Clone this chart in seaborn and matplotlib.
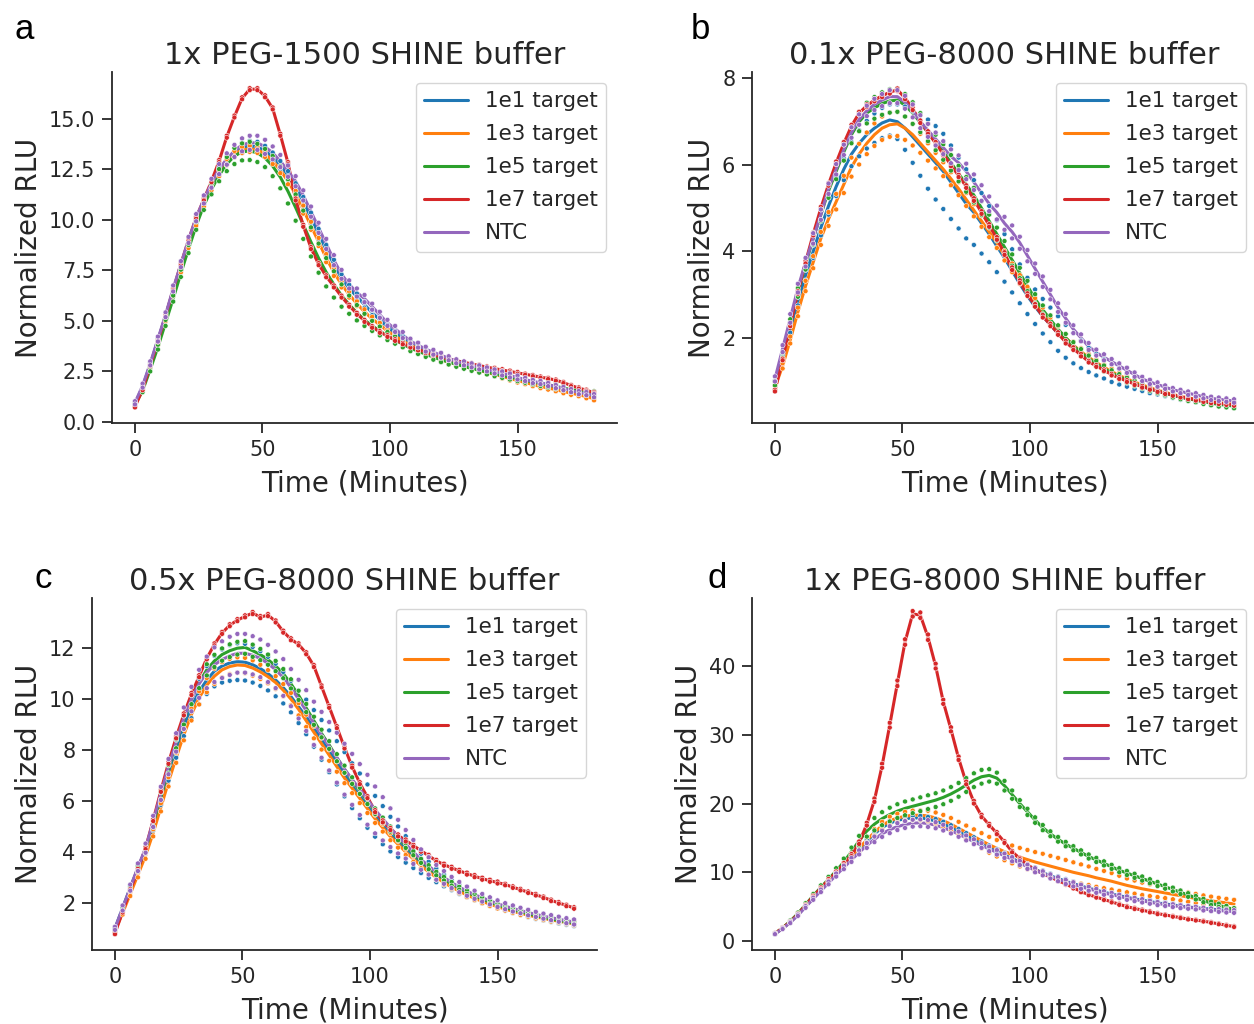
import matplotlib
matplotlib.use("Agg")
import matplotlib.pyplot as plt
import pandas as pd
import seaborn as sns

TIME = list(range(0, 181, 3))
SAMPLES = ["1e1 target", "1e3 target", "1e5 target", "1e7 target", "NTC"]
TITLES = ["1x PEG-1500 SHINE buffer", "0.1x PEG-8000 SHINE buffer",
          "0.5x PEG-8000 SHINE buffer", "1x PEG-8000 SHINE buffer"]
LETTERS = ["a", "b", "c", "d"]
YLIMS = [(-0.05, 17.3), (0.03, 8.15), (0.15, 13.97), (-1.3, 49.9)]

# ---------------- Panel a: means ----------------
A_1E1 = [0.9,1.75,2.85,4.05,5.25,6.5,7.7,8.9,10.0,10.9,11.7,
         12.4,12.9,13.3,13.55,13.65,13.6,13.4,13.1,12.7,12.2,
         11.6,10.9,10.1,9.3,8.5,7.8,7.1,6.6,6.2,5.8,
         5.4,5.05,4.7,4.4,4.15,3.9,3.7,3.5,3.35,3.2,
         3.05,2.95,2.85,2.75,2.65,2.55,2.45,2.35,2.25,2.15,
         2.05,1.95,1.88,1.8,1.7,1.6,1.5,1.42,1.35,1.25]
A_1E3 = [0.85,1.65,2.75,3.9,5.1,6.35,7.55,8.75,9.85,10.8,11.6,
         12.3,12.85,13.25,13.45,13.5,13.45,13.25,12.9,12.45,11.9,
         11.25,10.5,9.7,8.9,8.1,7.4,6.8,6.3,5.85,5.45,
         5.1,4.8,4.5,4.25,4.0,3.8,3.6,3.4,3.25,3.1,
         2.95,2.85,2.75,2.65,2.55,2.45,2.35,2.25,2.15,2.05,
         1.95,1.85,1.75,1.68,1.6,1.5,1.42,1.35,1.25,1.15]
A_1E5 = [0.85,1.55,2.6,3.7,4.9,6.1,7.35,8.55,9.7,10.7,11.5,
         12.2,12.75,13.15,13.35,13.4,13.3,13.05,12.65,12.1,11.4,
         10.6,9.75,8.9,8.1,7.4,6.8,6.25,5.8,5.4,5.05,
         4.75,4.5,4.25,4.05,3.85,3.65,3.5,3.35,3.2,3.08,
         2.96,2.85,2.75,2.65,2.56,2.47,2.38,2.3,2.22,2.14,
         2.06,1.98,1.9,1.83,1.76,1.68,1.6,1.53,1.46,1.4]
A_1E7 = [0.75,1.6,2.8,4.0,5.25,6.55,7.8,9.0,10.1,11.0,11.9,
         12.9,14.1,15.1,16.0,16.45,16.45,16.1,15.5,14.2,12.8,
         11.0,9.7,8.6,7.8,7.2,6.7,6.2,5.75,5.35,5.0,
         4.7,4.45,4.25,4.05,3.88,3.72,3.58,3.45,3.33,3.22,
         3.12,3.03,2.95,2.87,2.79,2.71,2.64,2.57,2.5,2.43,
         2.36,2.29,2.22,2.15,2.07,1.95,1.8,1.68,1.57,1.45]
A_NTC = [0.95,1.8,2.9,4.1,5.3,6.6,7.8,9.0,10.1,11.0,11.8,
         12.5,13.0,13.4,13.7,13.8,13.8,13.6,13.3,12.9,12.4,
         11.9,11.2,10.4,9.6,8.8,8.0,7.3,6.8,6.4,6.1,
         5.7,5.3,4.9,4.6,4.3,4.0,3.8,3.6,3.45,3.3,
         3.15,3.0,2.9,2.8,2.7,2.6,2.5,2.4,2.3,2.2,
         2.1,2.0,1.95,1.85,1.75,1.65,1.55,1.45,1.4,1.3]
# Panel a: replicate half-spread
A_1E1_SD = [0.05,0.05,0.08,0.08,0.1,0.1,0.1,0.12,0.12,0.15,0.15,
            0.18,0.2,0.22,0.25,0.25,0.25,0.25,0.22,0.2,0.2,
            0.2,0.22,0.25,0.25,0.25,0.22,0.2,0.18,0.15,0.15,
            0.12,0.12,0.1,0.1,0.1,0.1,0.1,0.08,0.08,0.08,
            0.08,0.08,0.08,0.08,0.08,0.08,0.08,0.08,0.08,0.08,
            0.06,0.06,0.06,0.06,0.06,0.06,0.06,0.06,0.06,0.06]
A_1E3_SD = [0.05,0.06,0.08,0.1,0.12,0.12,0.15,0.15,0.15,0.15,0.15,
            0.15,0.15,0.15,0.15,0.15,0.15,0.15,0.15,0.15,0.15,
            0.18,0.2,0.2,0.2,0.2,0.18,0.15,0.15,0.12,0.12,
            0.1,0.1,0.1,0.1,0.1,0.1,0.1,0.1,0.1,0.1,
            0.1,0.1,0.1,0.1,0.1,0.1,0.1,0.1,0.1,0.1,
            0.08,0.08,0.08,0.08,0.08,0.08,0.08,0.08,0.08,0.08]
A_1E5_SD = [0.05,0.08,0.1,0.12,0.15,0.15,0.18,0.2,0.2,0.22,0.25,
            0.3,0.35,0.4,0.42,0.45,0.45,0.45,0.5,0.55,0.6,
            0.65,0.7,0.72,0.72,0.7,0.65,0.55,0.45,0.38,0.3,
            0.25,0.22,0.2,0.18,0.16,0.15,0.14,0.13,0.12,0.12,
            0.12,0.12,0.12,0.12,0.12,0.12,0.12,0.12,0.12,0.12,
            0.12,0.12,0.12,0.12,0.12,0.12,0.12,0.12,0.12,0.12]
A_1E7_SD = [0.03,0.03,0.04,0.04,0.04,0.05,0.05,0.05,0.05,0.05,0.05,
            0.05,0.05,0.05,0.05,0.05,0.05,0.05,0.05,0.05,0.05,
            0.05,0.05,0.05,0.05,0.05,0.05,0.05,0.05,0.05,0.05,
            0.04,0.04,0.04,0.04,0.04,0.04,0.04,0.04,0.04,0.04,
            0.04,0.04,0.04,0.04,0.04,0.04,0.04,0.04,0.04,0.04,
            0.03,0.03,0.03,0.03,0.03,0.03,0.03,0.03,0.03,0.03]
A_NTC_SD = [0.08,0.1,0.1,0.12,0.12,0.15,0.15,0.15,0.18,0.2,0.22,
            0.25,0.28,0.3,0.32,0.35,0.35,0.35,0.32,0.3,0.28,
            0.25,0.25,0.25,0.25,0.25,0.25,0.22,0.2,0.2,0.18,
            0.15,0.15,0.15,0.15,0.15,0.12,0.12,0.12,0.12,0.12,
            0.1,0.1,0.1,0.1,0.1,0.1,0.1,0.1,0.1,0.1,
            0.08,0.08,0.08,0.08,0.08,0.08,0.08,0.08,0.08,0.08]

# ---------------- Panel b: means ----------------
B_1E1 = [0.95,1.55,2.2,2.85,3.45,4.0,4.55,5.05,5.5,5.9,6.25,
         6.5,6.7,6.85,6.97,7.04,7.0,6.85,6.65,6.45,6.25,
         6.05,5.85,5.6,5.35,5.1,4.9,4.65,4.4,4.12,3.85,
         3.55,3.25,2.97,2.72,2.5,2.3,2.1,1.92,1.76,1.62,
         1.49,1.38,1.28,1.18,1.1,1.02,0.95,0.88,0.82,0.77,
         0.72,0.67,0.63,0.59,0.56,0.53,0.5,0.47,0.45,0.43]
B_1E3 = [0.85,1.35,1.95,2.6,3.2,3.75,4.3,4.75,5.15,5.55,5.95,
         6.25,6.5,6.7,6.85,6.93,6.95,6.85,6.7,6.5,6.3,
         6.1,5.9,5.68,5.45,5.2,4.95,4.7,4.45,4.2,3.9,
         3.62,3.35,3.08,2.82,2.6,2.38,2.18,2.0,1.83,1.68,
         1.55,1.43,1.32,1.22,1.13,1.05,0.98,0.91,0.85,0.79,
         0.74,0.69,0.65,0.61,0.58,0.55,0.52,0.5,0.48,0.46]
B_1E5 = [0.95,1.6,2.35,3.05,3.7,4.3,4.85,5.4,5.85,6.3,6.7,
         7.0,7.2,7.32,7.42,7.48,7.5,7.38,7.2,6.98,6.75,
         6.52,6.3,6.05,5.8,5.55,5.3,5.0,4.7,4.4,4.1,
         3.8,3.5,3.2,2.9,2.65,2.42,2.2,2.0,1.82,1.66,
         1.52,1.4,1.29,1.19,1.1,1.02,0.95,0.88,0.82,0.77,
         0.72,0.67,0.63,0.59,0.56,0.52,0.49,0.46,0.44,0.42]
B_1E7 = [0.78,1.5,2.3,3.05,3.75,4.4,5.0,5.55,6.05,6.5,6.9,
         7.2,7.37,7.5,7.6,7.68,7.74,7.55,7.3,7.0,6.75,
         6.5,6.25,6.0,5.75,5.5,5.2,4.9,4.6,4.3,3.95,
         3.6,3.3,3.0,2.75,2.5,2.3,2.1,1.9,1.75,1.6,
         1.45,1.35,1.25,1.15,1.07,1.0,0.93,0.87,0.82,0.77,
         0.72,0.68,0.64,0.6,0.57,0.54,0.51,0.49,0.47,0.45]
B_NTC = [1.05,1.75,2.45,3.15,3.75,4.3,4.85,5.45,5.9,6.35,6.75,
         7.05,7.25,7.4,7.5,7.58,7.58,7.45,7.25,7.0,6.8,
         6.6,6.4,6.2,6.05,5.85,5.6,5.35,5.1,4.9,4.65,
         4.45,4.2,3.9,3.6,3.3,3.0,2.7,2.45,2.2,2.0,
         1.8,1.66,1.55,1.45,1.35,1.25,1.15,1.05,0.98,0.92,
         0.86,0.8,0.76,0.72,0.68,0.64,0.6,0.58,0.56,0.54]
B_1E1_SD = [0.05,0.06,0.08,0.1,0.12,0.15,0.18,0.2,0.22,0.25,0.28,
            0.3,0.32,0.34,0.35,0.36,0.4,0.5,0.6,0.7,0.8,
            0.85,0.87,0.85,0.82,0.8,0.75,0.7,0.65,0.6,0.55,
            0.5,0.45,0.42,0.4,0.4,0.4,0.4,0.38,0.35,0.32,
            0.28,0.25,0.22,0.2,0.18,0.15,0.13,0.11,0.1,0.08,
            0.07,0.06,0.06,0.05,0.05,0.05,0.05,0.05,0.05,0.05]
B_1E3_SD = [0.05,0.06,0.08,0.1,0.12,0.14,0.15,0.16,0.18,0.2,0.22,
            0.24,0.25,0.26,0.27,0.28,0.28,0.27,0.25,0.22,0.2,
            0.18,0.16,0.15,0.15,0.15,0.14,0.13,0.12,0.12,0.11,
            0.1,0.1,0.1,0.1,0.1,0.09,0.09,0.09,0.08,0.08,
            0.08,0.07,0.07,0.07,0.06,0.06,0.06,0.05,0.05,0.05,
            0.05,0.05,0.05,0.05,0.05,0.05,0.05,0.05,0.05,0.05]
B_1E5_SD = [0.05,0.06,0.08,0.1,0.12,0.14,0.15,0.16,0.18,0.2,0.2,
            0.22,0.24,0.25,0.26,0.27,0.27,0.26,0.25,0.22,0.2,
            0.18,0.18,0.18,0.18,0.17,0.17,0.16,0.15,0.15,0.14,
            0.13,0.12,0.12,0.11,0.1,0.1,0.09,0.09,0.08,0.08,
            0.07,0.07,0.07,0.06,0.06,0.06,0.06,0.05,0.05,0.05,
            0.05,0.05,0.05,0.05,0.05,0.05,0.05,0.05,0.05,0.05]
B_1E7_SD = [0.02,0.02,0.03,0.03,0.03,0.03,0.03,0.03,0.03,0.03,0.03,
            0.03,0.03,0.03,0.03,0.03,0.03,0.03,0.03,0.03,0.03,
            0.03,0.03,0.03,0.03,0.03,0.03,0.03,0.03,0.03,0.03,
            0.03,0.03,0.03,0.03,0.03,0.03,0.03,0.03,0.03,0.03,
            0.02,0.02,0.02,0.02,0.02,0.02,0.02,0.02,0.02,0.02,
            0.02,0.02,0.02,0.02,0.02,0.02,0.02,0.02,0.02,0.02]
B_NTC_SD = [0.06,0.08,0.1,0.1,0.1,0.12,0.12,0.12,0.12,0.12,0.12,
            0.12,0.12,0.13,0.14,0.15,0.15,0.15,0.15,0.15,0.15,
            0.15,0.15,0.16,0.17,0.18,0.18,0.18,0.17,0.16,0.15,
            0.15,0.14,0.13,0.12,0.12,0.11,0.1,0.1,0.09,0.08,
            0.08,0.07,0.07,0.06,0.06,0.06,0.05,0.05,0.05,0.05,
            0.04,0.04,0.04,0.04,0.04,0.04,0.04,0.04,0.04,0.04]

# ---------------- Panel c: means ----------------
C_1E1 = [1.0,1.8,2.6,3.35,4.1,5.05,6.1,7.1,8.05,8.95,9.7,
         10.3,10.75,11.1,11.3,11.42,11.47,11.45,11.35,11.2,11.0,
         10.75,10.45,10.1,9.7,9.3,8.85,8.4,7.95,7.5,7.05,
         6.6,6.2,5.8,5.4,5.05,4.7,4.4,4.1,3.82,3.55,
         3.3,3.08,2.88,2.7,2.53,2.38,2.24,2.11,2.0,1.89,
         1.79,1.7,1.62,1.54,1.47,1.41,1.35,1.29,1.24,1.19]
C_1E3 = [0.9,1.6,2.35,3.1,3.85,4.75,5.75,6.75,7.7,8.6,9.4,
         10.05,10.55,10.9,11.15,11.28,11.34,11.32,11.22,11.07,10.88,
         10.65,10.35,10.0,9.6,9.15,8.7,8.25,7.8,7.35,6.9,
         6.5,6.1,5.7,5.3,4.95,4.6,4.3,4.0,3.72,3.46,
         3.22,3.0,2.8,2.62,2.46,2.31,2.18,2.06,1.95,1.85,
         1.76,1.67,1.59,1.52,1.45,1.39,1.33,1.28,1.23,1.18]
C_1E5 = [0.95,1.75,2.55,3.35,4.1,5.1,6.2,7.25,8.25,9.2,10.0,
         10.65,11.15,11.5,11.75,11.9,12.0,12.03,11.9,11.75,11.55,
         11.3,11.0,10.6,10.15,9.65,9.15,8.65,8.2,7.7,7.25,
         6.8,6.4,6.0,5.6,5.25,4.9,4.55,4.25,3.95,3.65,
         3.4,3.15,2.95,2.75,2.58,2.42,2.28,2.15,2.03,1.92,
         1.82,1.73,1.65,1.57,1.5,1.43,1.37,1.31,1.26,1.21]
C_1E7 = [0.8,1.65,2.5,3.3,4.15,5.25,6.4,7.5,8.5,9.4,10.2,
         10.9,11.6,12.15,12.6,12.9,13.1,13.25,13.38,13.22,13.3,
         13.05,12.65,12.35,12.15,11.8,11.3,10.5,9.7,8.9,8.1,
         7.35,6.7,6.15,5.6,5.2,4.9,4.65,4.45,4.25,4.05,
         3.85,3.65,3.5,3.38,3.26,3.15,3.05,2.95,2.87,2.8,
         2.72,2.62,2.52,2.42,2.32,2.22,2.1,2.0,1.9,1.8]
C_NTC = [1.0,1.8,2.6,3.4,4.15,5.2,6.3,7.35,8.3,9.25,10.0,
         10.6,11.05,11.35,11.55,11.7,11.8,11.8,11.72,11.6,11.4,
         11.15,10.85,10.45,10.0,9.55,9.05,8.6,8.15,7.7,7.25,
         6.85,6.45,6.05,5.65,5.3,4.95,4.6,4.3,4.0,3.7,
         3.45,3.2,3.0,2.8,2.62,2.46,2.32,2.2,2.08,1.97,
         1.87,1.78,1.7,1.62,1.55,1.48,1.42,1.36,1.3,1.25]
C_1E1_SD = [0.05,0.08,0.1,0.12,0.15,0.2,0.25,0.3,0.35,0.4,0.45,
            0.5,0.55,0.6,0.65,0.7,0.72,0.72,0.7,0.68,0.66,
            0.64,0.62,0.62,0.64,0.68,0.72,0.78,0.82,0.85,0.87,
            0.88,0.88,0.85,0.8,0.75,0.68,0.6,0.52,0.45,0.38,
            0.32,0.27,0.23,0.2,0.18,0.16,0.14,0.13,0.12,0.11,
            0.1,0.1,0.1,0.1,0.1,0.1,0.1,0.1,0.1,0.1]
C_1E3_SD = [0.05,0.06,0.08,0.1,0.12,0.14,0.16,0.18,0.2,0.22,0.24,
            0.26,0.28,0.3,0.3,0.3,0.3,0.3,0.3,0.28,0.26,
            0.25,0.24,0.24,0.24,0.24,0.24,0.23,0.22,0.2,0.2,
            0.19,0.18,0.17,0.16,0.15,0.14,0.13,0.12,0.11,0.1,
            0.1,0.09,0.09,0.08,0.08,0.08,0.07,0.07,0.07,0.07,
            0.06,0.06,0.06,0.06,0.06,0.06,0.06,0.06,0.06,0.06]
C_1E5_SD = [0.05,0.06,0.08,0.1,0.1,0.12,0.14,0.16,0.18,0.2,0.2,
            0.22,0.22,0.24,0.24,0.25,0.25,0.25,0.24,0.22,0.2,
            0.2,0.18,0.18,0.18,0.16,0.16,0.15,0.15,0.14,0.14,
            0.13,0.12,0.12,0.11,0.1,0.1,0.09,0.09,0.08,0.08,
            0.08,0.07,0.07,0.07,0.06,0.06,0.06,0.06,0.05,0.05,
            0.05,0.05,0.05,0.05,0.05,0.05,0.05,0.05,0.05,0.05]
C_1E7_SD = [0.03,0.03,0.04,0.04,0.04,0.04,0.04,0.04,0.04,0.04,0.04,
            0.04,0.04,0.04,0.04,0.04,0.04,0.04,0.04,0.04,0.04,
            0.04,0.04,0.04,0.04,0.04,0.04,0.04,0.04,0.04,0.04,
            0.04,0.04,0.04,0.04,0.04,0.04,0.04,0.04,0.04,0.04,
            0.04,0.04,0.04,0.04,0.04,0.04,0.04,0.04,0.04,0.04,
            0.03,0.03,0.03,0.03,0.03,0.03,0.03,0.03,0.03,0.03]
C_NTC_SD = [0.06,0.1,0.12,0.15,0.18,0.22,0.26,0.3,0.36,0.42,0.48,
            0.55,0.62,0.68,0.72,0.75,0.76,0.76,0.75,0.74,0.73,
            0.72,0.72,0.73,0.76,0.8,0.85,0.9,0.95,0.98,1.0,
            1.0,1.0,0.98,0.92,0.85,0.76,0.66,0.56,0.47,0.4,
            0.34,0.29,0.25,0.22,0.2,0.18,0.16,0.15,0.14,0.13,
            0.12,0.12,0.11,0.11,0.1,0.1,0.1,0.1,0.1,0.1]

# ---------------- Panel d: means ----------------
D_1E1 = [1.05,1.85,2.75,3.85,5.05,6.25,7.45,8.65,9.85,11.0,12.2,
         13.4,14.55,15.6,16.5,17.15,17.55,17.8,17.9,17.9,17.75,
         17.45,17.05,16.55,16.0,15.4,14.8,14.2,13.6,13.05,12.5,
         12.0,11.5,10.9,10.4,9.95,9.5,9.1,8.7,8.35,8.0,
         7.7,7.4,7.1,6.85,6.6,6.35,6.15,5.95,5.75,5.55,
         5.4,5.25,5.1,4.95,4.85,4.75,4.65,4.55,4.5,4.45]
D_1E3 = [1.1,1.9,2.8,3.9,5.1,6.3,7.5,8.7,9.9,11.1,12.3,
         13.5,14.7,15.8,16.8,17.5,17.9,18.15,18.3,18.3,18.2,
         17.9,17.5,17.0,16.4,15.8,15.2,14.6,14.0,13.5,13.0,
         12.6,12.2,11.85,11.5,11.2,10.9,10.6,10.3,10.0,9.75,
         9.5,9.2,8.95,8.7,8.4,8.1,7.85,7.6,7.4,7.2,
         7.0,6.8,6.6,6.4,6.2,6.0,5.85,5.7,5.55,5.4]
D_1E5 = [1.1,1.9,2.9,4.0,5.3,6.6,7.8,9.0,10.2,11.5,13.0,
         14.6,16.0,17.0,17.8,18.4,18.9,19.3,19.6,19.9,20.2,
         20.5,20.9,21.4,22.0,22.7,23.4,23.9,24.1,23.7,22.6,
         21.3,20.0,18.8,17.6,16.5,15.6,14.8,14.1,13.5,12.9,
         12.3,11.8,11.3,10.8,10.3,9.9,9.5,9.1,8.7,8.3,
         7.9,7.5,7.1,6.7,6.3,5.9,5.5,5.2,4.9,4.6]
D_1E7 = [1.1,1.9,2.8,3.9,5.2,6.5,7.7,8.9,10.0,11.2,12.5,
         14.3,17.0,20.5,25.5,31.4,37.5,43.5,47.6,47.4,44.2,
         40.0,34.8,30.8,26.6,23.0,20.2,18.2,16.9,15.7,14.4,
         13.0,12.0,11.1,10.4,9.8,9.3,8.8,8.3,7.75,7.2,
         6.75,6.4,6.05,5.7,5.35,5.0,4.75,4.5,4.25,4.0,
         3.8,3.6,3.4,3.2,3.05,2.9,2.7,2.5,2.3,2.1]
D_NTC = [1.05,1.8,2.7,3.75,4.95,6.15,7.3,8.45,9.6,10.7,11.8,
         12.9,13.9,14.8,15.6,16.2,16.65,16.95,17.15,17.2,17.1,
         16.85,16.5,16.05,15.55,15.0,14.45,13.9,13.4,12.9,12.4,
         11.9,11.35,10.8,10.3,9.85,9.4,9.0,8.6,8.25,7.9,
         7.6,7.3,7.0,6.75,6.5,6.25,6.05,5.85,5.65,5.45,
         5.3,5.15,5.0,4.9,4.8,4.65,4.55,4.45,4.35,4.3]
D_1E1_SD = [0.05,0.06,0.08,0.1,0.12,0.14,0.16,0.18,0.2,0.2,0.22,
            0.24,0.25,0.26,0.28,0.3,0.3,0.3,0.3,0.3,0.3,
            0.3,0.3,0.3,0.3,0.3,0.3,0.3,0.3,0.3,0.3,
            0.3,0.3,0.3,0.3,0.3,0.3,0.3,0.3,0.3,0.3,
            0.3,0.3,0.3,0.3,0.3,0.28,0.28,0.26,0.26,0.25,
            0.25,0.24,0.24,0.23,0.22,0.22,0.21,0.2,0.2,0.2]
D_1E3_SD = [0.05,0.06,0.08,0.1,0.12,0.15,0.18,0.2,0.25,0.3,0.35,
            0.4,0.45,0.5,0.55,0.6,0.62,0.65,0.68,0.7,0.75,
            0.8,0.85,0.9,0.95,1.0,1.05,1.1,1.15,1.2,1.25,
            1.3,1.35,1.4,1.45,1.5,1.5,1.5,1.5,1.45,1.4,
            1.35,1.3,1.25,1.2,1.1,1.0,0.95,0.9,0.85,0.8,
            0.75,0.72,0.7,0.68,0.66,0.64,0.62,0.6,0.6,0.6]
D_1E5_SD = [0.05,0.08,0.1,0.15,0.2,0.25,0.3,0.35,0.4,0.5,0.6,
            0.7,0.8,0.9,0.95,1.0,1.0,1.0,1.0,1.0,1.0,
            1.0,1.0,1.0,1.0,1.0,1.0,1.0,0.9,0.8,0.7,
            0.6,0.5,0.45,0.4,0.38,0.36,0.34,0.32,0.3,0.3,
            0.3,0.3,0.3,0.3,0.3,0.3,0.3,0.3,0.3,0.3,
            0.28,0.28,0.26,0.26,0.25,0.25,0.24,0.24,0.22,0.2]
D_1E7_SD = [0.05,0.05,0.06,0.07,0.08,0.1,0.1,0.12,0.12,0.14,0.15,
            0.18,0.2,0.25,0.3,0.35,0.4,0.4,0.4,0.4,0.4,
            0.35,0.3,0.3,0.25,0.2,0.2,0.18,0.15,0.15,0.12,
            0.1,0.1,0.1,0.1,0.1,0.1,0.1,0.1,0.1,0.1,
            0.08,0.08,0.08,0.08,0.08,0.08,0.08,0.08,0.08,0.08,
            0.06,0.06,0.06,0.06,0.06,0.06,0.06,0.06,0.06,0.06]
D_NTC_SD = [0.05,0.06,0.08,0.1,0.12,0.15,0.18,0.2,0.22,0.25,0.28,
            0.3,0.35,0.4,0.45,0.5,0.5,0.5,0.5,0.5,0.5,
            0.45,0.42,0.4,0.38,0.36,0.35,0.34,0.33,0.32,0.31,
            0.3,0.3,0.3,0.3,0.3,0.3,0.3,0.3,0.3,0.3,
            0.28,0.28,0.26,0.26,0.25,0.25,0.24,0.24,0.22,0.22,
            0.2,0.2,0.2,0.2,0.2,0.2,0.2,0.2,0.2,0.2]

PANELS = [
    ([A_1E1, A_1E3, A_1E5, A_1E7, A_NTC], [A_1E1_SD, A_1E3_SD, A_1E5_SD, A_1E7_SD, A_NTC_SD]),
    ([B_1E1, B_1E3, B_1E5, B_1E7, B_NTC], [B_1E1_SD, B_1E3_SD, B_1E5_SD, B_1E7_SD, B_NTC_SD]),
    ([C_1E1, C_1E3, C_1E5, C_1E7, C_NTC], [C_1E1_SD, C_1E3_SD, C_1E5_SD, C_1E7_SD, C_NTC_SD]),
    ([D_1E1, D_1E3, D_1E5, D_1E7, D_NTC], [D_1E1_SD, D_1E3_SD, D_1E5_SD, D_1E7_SD, D_NTC_SD]),
]

sns.set_theme(style="ticks")
plt.rcParams["font.family"] = ["DejaVu Sans"]
plt.rcParams["axes.edgecolor"] = "#262626"
plt.rcParams["axes.linewidth"] = 1.3
plt.rcParams["xtick.major.width"] = 1.3
plt.rcParams["ytick.major.width"] = 1.3
plt.rcParams["xtick.major.size"] = 7
plt.rcParams["ytick.major.size"] = 7
plt.rcParams["xtick.major.pad"] = 5
plt.rcParams["ytick.major.pad"] = 5

palette = sns.color_palette("tab10", 5)

W, H = 1254, 1024
fig = plt.figure(figsize=(W / 100, H / 100), dpi=100)
boxes = [(112, 72, 617, 423), (752, 72, 1257, 423),
         (92, 598, 597, 950), (752, 598, 1257, 950)]
letter_pos = [(15, 39), (691, 39), (34, 588), (708, 588)]

for i, ((means, sds), (l, t, r, b)) in enumerate(zip(PANELS, boxes)):
    ax = fig.add_axes([l / W, 1 - b / H, (r - l) / W, (b - t) / H])
    rows = []
    for name, m, s in zip(SAMPLES, means, sds):
        for tt, mv, sv in zip(TIME, m, s):
            rows.append((tt, mv + sv, name, 1))
            rows.append((tt, mv - sv, name, 2))
    df = pd.DataFrame(rows, columns=["Time", "RLU", "Sample", "Rep"])
    sns.lineplot(data=df, x="Time", y="RLU", hue="Sample", hue_order=SAMPLES,
                 palette=palette, errorbar=None, linewidth=2.2, ax=ax, zorder=2)
    sns.scatterplot(data=df, x="Time", y="RLU", hue="Sample", hue_order=SAMPLES,
                    palette=palette, s=13, edgecolor="white", linewidth=0.4,
                    legend=False, ax=ax, zorder=3)
    handles, labels = ax.get_legend_handles_labels()
    ax.legend(handles, labels, loc="upper right", fontsize=15.5, frameon=True,
              handlelength=2.0, labelspacing=0.6)
    ax.set_xlim(-9, 189)
    ax.set_ylim(*YLIMS[i])
    ax.set_title(TITLES[i], fontsize=22, color="#262626")
    ax.set_xlabel("Time (Minutes)", fontsize=20, color="#262626", labelpad=7)
    ax.set_ylabel("Normalized RLU", fontsize=20, color="#262626")
    ax.tick_params(labelsize=15, colors="#262626")
    ax.set_xticks([0, 50, 100, 150])
    sns.despine(ax=ax)
    lx, ly = letter_pos[i]
    fig.text(lx / W, 1 - ly / H, LETTERS[i], fontsize=25,
             family=["Liberation Sans", "DejaVu Sans"], color="black")

fig.savefig("out.png", dpi=100)
